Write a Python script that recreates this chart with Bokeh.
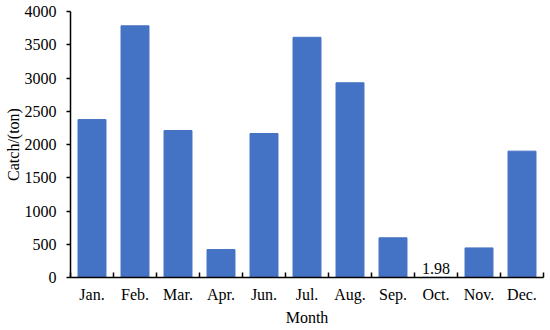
from bokeh.plotting import figure
from bokeh.models import FixedTicker, Range1d, ColumnDataSource
from bokeh.core.properties import value
from bokeh.embed import file_html
from bokeh.resources import INLINE

months = ["Jan.", "Feb.", "Mar.", "Apr.", "Jun.", "Jul.", "Aug.", "Sep.", "Oct.", "Nov.", "Dec."]
catch = [2375, 3785, 2210, 420, 2165, 3612, 2928, 597, 1.98, 445, 1900]
y_ticks = [0, 500, 1000, 1500, 2000, 2500, 3000, 3500, 4000]
label_month = "Oct."
label_text = "1.98"

xs = list(range(1, len(months) + 1))
src = ColumnDataSource(dict(x=xs, top=catch))

FONT = "Liberation Serif"
FS = "16px"
p = figure(width=550, height=330, output_backend="svg", toolbar_location=None,
           x_range=Range1d(0.5, len(months) + 0.5), y_range=Range1d(0, 4000),
           min_border_left=70, min_border_right=7, min_border_top=11, min_border_bottom=53)
p.outline_line_color = None
p.xgrid.visible = False
p.ygrid.visible = False

p.vbar(x="x", top="top", width=0.65, source=src, fill_color="#4472C4", line_color="#4472C4")

i = months.index(label_month)
p.text(x=[xs[i]], y=[catch[i]], text=[label_text], text_align="center", text_baseline="bottom",
       y_offset=-3, text_font=value(FONT), text_font_size=FS, text_color="#000000")

xa = p.xaxis[0]
xa.ticker = FixedTicker(ticks=xs, minor_ticks=[x - 0.5 for x in xs] + [xs[-1] + 0.5])
xa.major_label_overrides = {x: m for x, m in zip(xs, months)}
xa.major_tick_in = 0
xa.major_tick_out = 0
xa.minor_tick_in = 5
xa.minor_tick_out = 0
xa.minor_tick_line_color = "black"
xa.major_label_standoff = 8
xa.axis_label = "Month"
xa.axis_label_standoff = 3

ya = p.yaxis[0]
ya.ticker = FixedTicker(ticks=y_ticks, minor_ticks=[])
ya.major_tick_in = 0
ya.major_tick_out = 4
ya.major_label_standoff = 10
ya.axis_label = "Catch/(ton)"
ya.axis_label_standoff = 0

for ax in (xa, ya):
    ax.axis_line_color = "black"
    ax.axis_line_width = 1.5
    ax.major_tick_line_color = "black"
    ax.major_tick_line_width = 1.5
    ax.minor_tick_line_width = 1.5
    ax.major_label_text_font = FONT
    ax.major_label_text_font_size = FS
    ax.major_label_text_color = "black"
    ax.axis_label_text_font = FONT
    ax.axis_label_text_font_size = FS
    ax.axis_label_text_font_style = "normal"
    ax.axis_label_text_color = "black"

open("out.html", "w").write(file_html(p, INLINE))
